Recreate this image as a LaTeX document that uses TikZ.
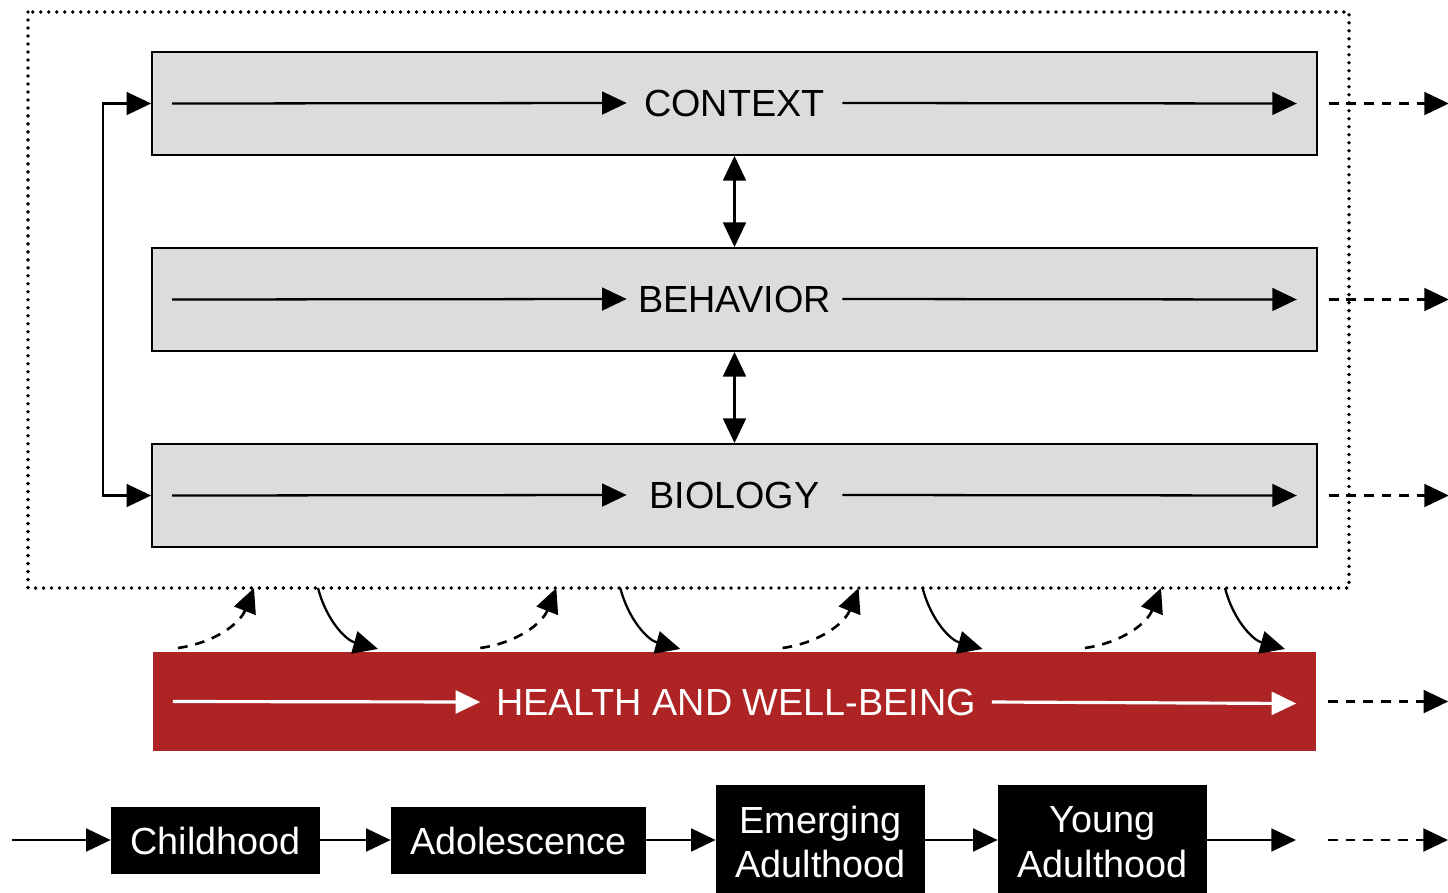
\documentclass[tikz,border=0pt]{standalone}
\usepackage{fontspec}
\setmainfont{Liberation Sans}
\usetikzlibrary{arrows.meta,calc}
\definecolor{boxgray}{RGB}{220,220,220}
\definecolor{hwred}{RGB}{174,36,36}
\tikzset{
  tip/.style={-{Triangle[length=14pt,width=13pt]}},
  arr/.style={tip, line width=1.3pt, black},
  warr/.style={-{Triangle[length=14pt,width=13pt]}, line width=1.8pt, white},
  darr/.style={tip, line width=1.5pt, dash pattern=on 5.5pt off 4.5pt},
  grayboxstyle/.style={draw=black, line width=1.1pt, fill=boxgray, minimum width=23.3cm, minimum height=2.06cm, inner sep=0pt},
  lbl/.style={inner sep=0pt, font=\fontsize{21.5}{24.5}\selectfont},
  stage/.style={fill=black, text=white, inner sep=0pt, minimum height=1.34cm, align=center, font=\fontsize{21.5}{25.5}\selectfont},
  stagetext/.style={text=white, inner sep=0pt, align=center, font=\fontsize{21.5}{25.5}\selectfont},
  dotbox/.style={line width=2.2pt, dash pattern=on 0pt off 4.55pt, line cap=round},
}
\begin{document}
\begin{tikzpicture}[x=0.02cm,y=-0.02cm]
\useasboundingbox (0,0) rectangle (1448,893);
% dotted frame
\draw[dotbox] (28,12) rectangle (1349,588);
% gray boxes
\node[grayboxstyle] (ctx) at (734.5,103.5) {};
\node[grayboxstyle] (beh) at (734.5,299.5) {};
\node[grayboxstyle] (bio) at (734.5,495.5) {};
\node[lbl, minimum width=4.3cm] (ctxl) at (734.5,103) {CONTEXT};
\node[lbl, minimum width=4.3cm] (behl) at (734.5,299) {BEHAVIOR};
\node[lbl, minimum width=4.3cm] (biol) at (734.5,495) {BIOLOGY};
\foreach \b in {ctx,beh,bio}{
  \draw[arr] ($(\b.west)+(21,0)$) -- (\b l.west);
  \draw[arr] (\b l.east) -- ($(\b.east)+(-21,0)$);
  \draw[darr] ($(\b.east)+(11,0)$) -- ($(\b.east)+(131,0)$);
}
% vertical double arrows
\draw[arr, {Triangle[length=14pt,width=13pt]}-{Triangle[length=14pt,width=13pt]}] (ctx.south) -- (beh.north);
\draw[arr, {Triangle[length=14pt,width=13pt]}-{Triangle[length=14pt,width=13pt]}] (beh.south) -- (bio.north);
% left loop
\draw[arr, {Triangle[length=14pt,width=13pt]}-{Triangle[length=14pt,width=13pt]}] (ctx.west) -- ++(-48,0) |- (bio.west);
% health box
\node[fill=hwred, minimum width=23.26cm, minimum height=1.98cm, inner sep=0pt] (hw) at (734.5,701.5) {};
\node[lbl, text=white, minimum width=10.22cm] (hwl) at (736,702) {HEALTH AND WELL-BEING};
\draw[warr] ($(hw.west)+(20,0)$) -- (hwl.west);
\draw[warr] (hwl.east) -- ($(hw.east)+(-20,2)$);
\draw[darr] ($(hw.east)+(12,0)$) -- ($(hw.east)+(132,0)$);
% curved arrows between frame and health box
\foreach \i/\dx in {1/0,2/302.3,3/604.6,4/907}{
  \coordinate (ds\i) at (178+\dx,648);
  \coordinate (de\i) at (254+\dx,588);
  \coordinate (ss\i) at (318+\dx,588);
  \coordinate (se\i) at (378+\dx,649);
  \draw[darr] (ds\i) to[bend right=30] (de\i);
  \draw[arr] (ss\i) to[bend right=30] (se\i);
}
% life stages
\node[stage, minimum width=4.18cm] (child) at (215.5,840.5) {Childhood};
\node[stage, minimum width=5.1cm] (adol) at (518.5,840.5) {Adolescence};
\node[stage, minimum width=4.18cm, minimum height=2.16cm] (emerg) at (820.5,839) {};
\node[stage, minimum width=4.18cm, minimum height=2.16cm] (young) at (1102.5,839) {};
\node[stagetext] (emergl) at (820.5,842) {Emerging\\Adulthood};
\node[stagetext] (youngl) at (1102.5,842) {Young\\Adulthood};
\coordinate (s0) at (12,840);
\coordinate (s1) at (1296,840);
\coordinate (s2) at (1328,840);
\coordinate (s3) at (1448,840);
\draw[arr] (s0) -- (child.west |- s0);
\draw[arr] (child.east |- s0) -- (adol.west |- s0);
\draw[arr] (adol.east |- s0) -- (emerg.west |- s0);
\draw[arr] (emerg.east |- s0) -- (young.west |- s0);
\draw[arr] (young.east |- s0) -- (s1);
\draw[darr] (s2) -- (s3);
\end{tikzpicture}
\end{document}
